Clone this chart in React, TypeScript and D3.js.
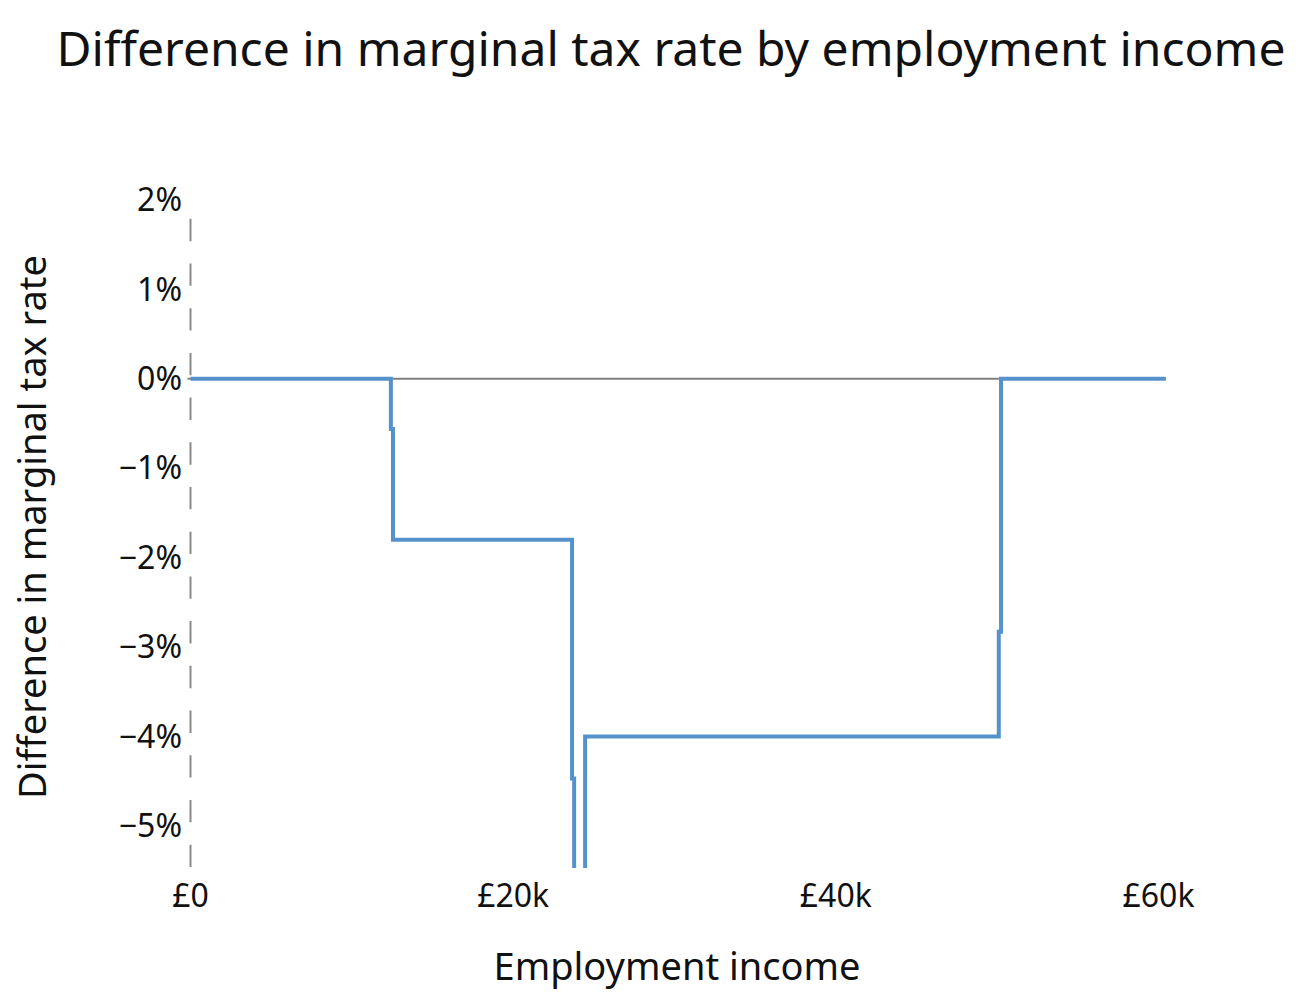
import * as React from "react";
import * as d3 from "d3";

// step points of the marginal rate difference (income in £, difference in %)
const incomes = [0, 12420, 12550, 23650, 23780, 24460, 50100, 50240, 60450];
const rateDiffs = [0, -0.56, -1.8, -4.47, -9, -4.0, -2.83, 0, 0];
const yTicks = [2, 1, 0, -1, -2, -3, -4, -5];
const xTicks = [0, 20000, 40000, 60000];

const W = 1314;
const H = 1008;
const FONT = "'Noto Sans', 'Open Sans', sans-serif";

export default function App() {
    const x = d3.scaleLinear().domain([0, 60000]).range([190.5, 1158.5]);
    const y = d3.scaleLinear().domain([-5.46, 2]).range([867, 200]);

    const points = incomes.map((inc, i) => [inc, rateDiffs[i]] as [number, number]);
    const line = d3
        .line<[number, number]>()
        .x((d) => x(d[0]))
        .y((d) => y(d[1]))
        .curve(d3.curveStepAfter);

    const dash = (y(0) - y(1)) / 4;
    const fmtPct = (v: number) => (v < 0 ? "\u2212" + Math.abs(v) : String(v)) + "%";
    const fmtMoney = (v: number) => (v === 0 ? "£0" : "£" + v / 1000 + "k");

    return (
        <svg
            width={W}
            height={H}
            style={{ position: "absolute", left: 0, top: 0, display: "block", background: "#fff" }}
            fontFamily={FONT}
        >
            <defs>
                <clipPath id="plot-clip">
                    <rect x={0} y={y(2)} width={W} height={y(-5.46) - y(2) + 1} />
                </clipPath>
            </defs>
            <text x={671} y={66} textAnchor="middle" fontSize={48} fill="#111">
                Difference in marginal tax rate by employment income
            </text>

            {/* y axis, dashed */}
            <line
                x1={x(0)}
                x2={x(0)}
                y1={y(-5.46)}
                y2={y(2)}
                stroke="#8a8a8a"
                strokeWidth={2}
                strokeDasharray={`${dash},${dash}`}
            />
            {yTicks.map((t) => (
                <text key={t} x={182} y={y(t)} dy="0.35em" textAnchor="end" fontSize={32} fill="#111">
                    {fmtPct(t)}
                </text>
            ))}
            {xTicks.map((t) => (
                <text key={t} x={x(t)} y={907} textAnchor="middle" fontSize={32} fill="#111">
                    {fmtMoney(t)}
                </text>
            ))}

            {/* zero line */}
            <line x1={x(0) - 3} x2={x(60450)} y1={y(0)} y2={y(0)} stroke="#808080" strokeWidth={2} />

            <path
                d={line(points) || ""}
                fill="none"
                stroke="#5592cc"
                strokeWidth={4}
                clipPath="url(#plot-clip)"
            />

            <text x={677} y={980} textAnchor="middle" fontSize={38} fill="#111">
                Employment income
            </text>
            <text
                transform={`translate(46, 527) rotate(-90)`}
                textAnchor="middle"
                fontSize={38}
                fill="#111"
            >
                Difference in marginal tax rate
            </text>
        </svg>
    );
}
